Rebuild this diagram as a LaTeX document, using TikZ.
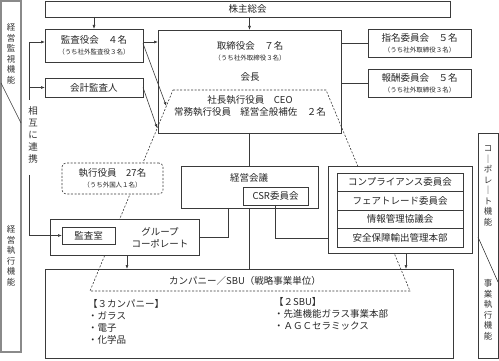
\documentclass[tikz,border=0pt]{standalone}
\usepackage{fontspec}
\setmainfont{Noto Sans CJK JP}
\usetikzlibrary{arrows.meta, calc, positioning}
\definecolor{orgline}{HTML}{3A3A3A}
\definecolor{sideline}{HTML}{8A8A8A}
\newcommand\smallnote[1]{{\fontsize{6.5}{8}\selectfont #1}}

\begin{document}
\begin{tikzpicture}[
  x=1pt, y=-1pt,
  every node/.style={font=\fontsize{9.5}{12}\selectfont, text=black!85, align=center},
  box/.style={draw=orgline, line width=0.6pt, fill=white, inner sep=0pt,
    outer sep=0pt, align=center},
  flow/.style={-{Latex[length=4pt, width=3pt]}, line width=0.6pt, draw=orgline},
  link/.style={line width=0.6pt, draw=orgline},
  trap/.style={line width=0.6pt, draw=orgline, dash pattern=on 2pt off 1.6pt},
  vtext/.style={font=\fontsize{8.5}{10.5}\selectfont, align=center, inner sep=0pt,
    text=black!80},
  sidebar/.style={draw=sideline, line width=1.2pt},
  listtext/.style={align=left, anchor=north west, inner sep=0pt,
    font=\fontsize{9.5}{12.2}\selectfont}
]
\useasboundingbox (0,0) rectangle (499,361);

% side columns
\draw[sidebar] (1,1) rectangle (21,352);
\draw[link] (1,83) -- (21,123);
\node[vtext] (kanshi) at (11,54) {経\\営\\監\\視\\機\\能};
\node[vtext] (shikko) at (11,256) {経\\営\\執\\行\\機\\能};

\draw[link] (478,133) rectangle (498,358);
\draw[link] (478,237) -- (498,282);
\node[vtext] (corp) at (488,186) {コ\\｜\\ポ\\レ\\｜\\ト\\機\\能};
\node[vtext] (jigyo) at (488,310) {事\\業\\執\\行\\機\\能};

% shareholders and audit
\node[box, minimum width=405pt, minimum height=16pt] (kabu) at (247.5,9) {株主総会};
\node[box, minimum width=98pt, minimum height=33pt] (kansa) at (94,45.5)
  {監査役会　４名\\[-1pt]\smallnote{（うち社外監査役３名）}};
\node[box, minimum width=98pt, minimum height=19pt] (kaikei) at (94,87.5) {会計監査人};

% board
\node[box, minimum width=183pt, minimum height=103pt] (tori) at (249.5,81.5) {};
\node (tori-title) at (250,51)
  {取締役会　７名\\[-1pt]\smallnote{（うち社外取締役３名）}};
\node (kaicho) at (250,77) {会長};
\node (ceo) at (250,106) {社長執行役員　CEO\\常務執行役員　経営全般補佐　２名};

% committees of the board
\node[box, minimum width=103pt, minimum height=28pt] (shimei) at (419.5,43)
  {指名委員会　５名\\[-1pt]\smallnote{（うち社外取締役３名）}};
\node[box, minimum width=103pt, minimum height=28pt] (hoshu) at (419.5,83)
  {報酬委員会　５名\\[-1pt]\smallnote{（うち社外取締役３名）}};

% companies / SBU
\node[box, fill=none, minimum width=408pt, minimum height=89pt] (company) at (249,313.5) {};
\node (company-title) at (245,281) {カンパニー／SBU（戦略事業単位）};
\node[listtext] (three) at (88,299) {【３カンパニー】\\・ガラス\\・電子\\・化学品};
\node[listtext] (two) at (274,297) {【２SBU】\\・先進機能ガラス事業本部\\・ＡＧＣセラミックス};

% executive range (dashed)
\coordinate (tz-nw) at (173,90);
\coordinate (tz-ne) at (326,90);
\coordinate (tz-se) at (410,291);
\coordinate (tz-sw) at (90,291);
\draw[trap] (tz-nw) -- (tz-ne) -- (tz-se) -- (tz-sw) -- cycle;

% executive officers
\node[box, trap, rounded corners=4pt, minimum width=101pt, minimum height=31pt]
  (shikkou) at (112.5,178.5) {執行役員　27名\\[-1pt]\smallnote{（うち外国人１名）}};

% group corporate
\node[box, minimum width=149pt, minimum height=36pt] (group) at (124.5,237) {};
\node[box, minimum width=53pt, minimum height=17pt] (kansashitsu) at (88.5,235.5) {監査室};
\node (group-label) at (160,238) {グループ\\コーポレート};

% management meeting
\node[box, minimum width=137pt, minimum height=42pt] (keiei) at (249.5,187) {};
\node (keiei-label) at (249,178) {経営会議};
\node[box, minimum width=65pt, minimum height=18pt] (csr) at (275.5,196) {CSR委員会};

% corporate committees
\node[box, minimum width=144pt, minimum height=87pt] (iinkai) at (400,209.5) {};
\node[box, minimum width=126pt, minimum height=18.5pt] (comp) at (400,182.25)
  {コンプライアンス委員会};
\node[box, minimum width=126pt, minimum height=18.5pt, below=0pt of comp] (fair)
  {フェアトレード委員会};
\node[box, minimum width=126pt, minimum height=18.5pt, below=0pt of fair] (joho)
  {情報管理協議会};
\node[box, minimum width=126pt, minimum height=18.5pt, below=0pt of joho] (anzen)
  {安全保障輸出管理本部};

% connectors
\draw[flow] (kabu.south -| kansa.north) -- (kansa.north);
\draw[flow] (kabu.south -| tori.north) -- (tori.north);
\draw[flow] ([yshift=3.5pt]kansa.east) -- ([yshift=3.5pt]kansa.east -| tori.west);

\coordinate (tz-a) at ($(tz-nw)!0.08!(tz-sw)$);
\coordinate (tz-b) at ($(tz-nw)!0.19!(tz-sw)$);
\draw[flow] ([yshift=2pt]kansa.east) -- (tz-a);
\draw[flow] (kaikei.east) -- (tz-b);

\draw[link] (tori.east |- shimei.west) -- (shimei.west);
\draw[link] (tori.east |- hoshu.west) -- (hoshu.west);

% mutual cooperation
\coordinate (renkei-top) at (29,100);
\coordinate (renkei-bot) at (29,175);
\draw[flow] (renkei-top) |- ([yshift=3.5pt]kansa.west);
\draw[flow] (renkei-top |- kaikei.west) -- (kaikei.west);
\node[vtext, font=\fontsize{9.5}{12}\selectfont] (renkei) at (33,135) {相\\互\\に\\連\\携};
\draw[flow] (renkei-bot) |- (kansashitsu.west);

% lines downward
\draw[link] (tori.south) -- (tori.south |- keiei.north);
\draw[link] (keiei.south) -- (keiei.south |- company.north);
\draw[link] ([xshift=-21pt]keiei.south) |- (group.east);
\draw[link] (csr.south) |- ([yshift=-28.5pt]iinkai.west);
\draw[flow] ([xshift=2.5pt]group.south) -- ([xshift=2.5pt]group.south |- company.north);
\draw[flow] ([xshift=6pt]iinkai.south) -- ([xshift=6pt]iinkai.south |- company.north);

\end{tikzpicture}
\end{document}
